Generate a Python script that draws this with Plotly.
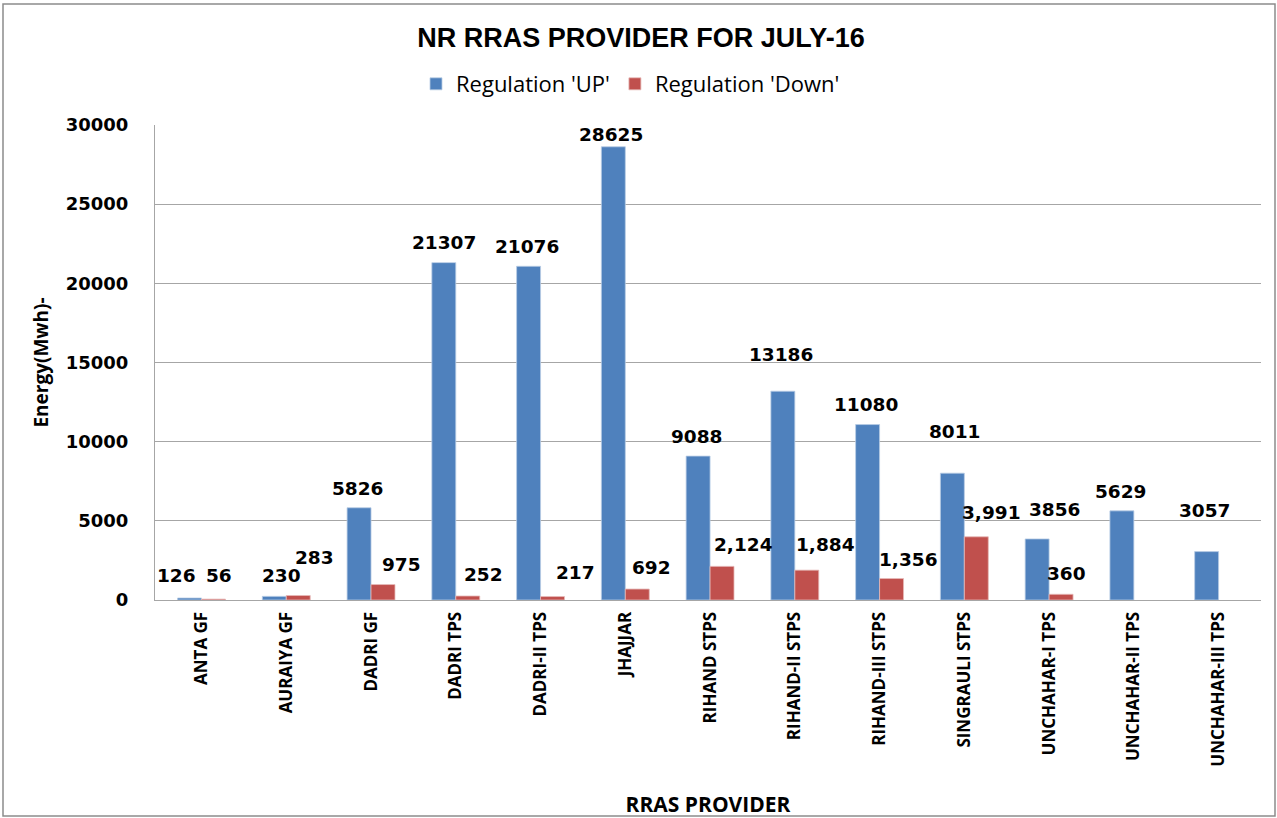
import plotly.graph_objects as go

categories = ["ANTA GF", "AURAIYA GF", "DADRI GF", "DADRI TPS", "DADRI-II TPS", "JHAJJAR",
              "RIHAND STPS", "RIHAND-II STPS", "RIHAND-III STPS", "SINGRAULI STPS",
              "UNCHAHAR-I TPS", "UNCHAHAR-II TPS", "UNCHAHAR-III TPS"]
reg_up = [126, 230, 5826, 21307, 21076, 28625, 9088, 13186, 11080, 8011, 3856, 5629, 3057]
reg_down = [56, 283, 975, 252, 217, 692, 2124, 1884, 1356, 3991, 360, None, None]
y_ticks = [0, 5000, 10000, 15000, 20000, 25000, 30000]

# label placement offsets (px) relative to each bar's top centre (style only)
up_dx = [-13, 7, -1, 0, -2, -2, -1, -2, -2, 3, 18, -1, -2]
up_dy = [23, 21, 19, 20, 20, 12, 20, 37, 20, 42, 29, 19, 41]
down_dx = [5, 16.5, 18, 15.5, 23, 14, 21.5, 18.5, 17, 15.5, 5.5, 0, 0]
down_dy = [24, 38, 20, 22, 24, 21.5, 22, 26, 19, 24, 21, 0, 0]

W, H = 1277, 818
L, R, T, B = 155, 16, 125, 218
pw, ph = W - L - R, H - T - B
BARGAP = 0.435
half_bar = (pw / len(categories)) * (1 - BARGAP) / 2 / 2

label_font = dict(family="DejaVu Sans", size=18.5, color="black", weight="bold")

fig = go.Figure()
fig.add_trace(go.Bar(
    name="Regulation 'UP'", x=categories, y=reg_up,
    marker=dict(color="#4F81BD", line=dict(color="#B9CDE5", width=0.8)),
))
fig.add_trace(go.Bar(
    name="Regulation 'Down'", x=categories, y=reg_down,
    marker=dict(color="#C0504D", line=dict(color="#E6B9B8", width=0.8)),
))

annotations = []
for cat, v, dx, dy in zip(categories, reg_up, up_dx, up_dy):
    if v is None:
        continue
    annotations.append(dict(x=cat, y=v, xref="x", yref="y", text=str(v), showarrow=False,
                            xshift=-half_bar + dx, yshift=dy, yanchor="middle",
                            xanchor="center", font=label_font))
for cat, v, dx, dy in zip(categories, reg_down, down_dx, down_dy):
    if v is None:
        continue
    annotations.append(dict(x=cat, y=v, xref="x", yref="y", text=f"{v:,}", showarrow=False,
                            xshift=half_bar + dx, yshift=dy, yanchor="middle",
                            xanchor="center", font=label_font))

fig.update_layout(
    width=W, height=H,
    margin=dict(l=L, r=R, t=T, b=B, autoexpand=False),
    paper_bgcolor="white", plot_bgcolor="white",
    barmode="group", bargap=BARGAP, bargroupgap=0,
    title=dict(text="<b>NR RRAS PROVIDER FOR JULY-16</b>", x=641 / W, xanchor="center",
               y=1 - 38 / H, yanchor="middle",
               font=dict(family="Liberation Sans", size=27, color="black")),
    legend=dict(orientation="h", x=(416 - L) / pw, xanchor="left",
                y=(ph + T - 84) / ph, yanchor="middle",
                font=dict(family="Open Sans", size=22, color="black"),
                itemwidth=30, bgcolor="rgba(0,0,0,0)"),
    font=dict(family="Open Sans", color="black"),
    annotations=annotations,
)
fig.update_xaxes(
    tickangle=-90, tickfont=dict(family="Open Sans", size=17, color="black", weight="bold"),
    showline=True, linecolor="#A6A6A6", linewidth=1, showgrid=False, ticks="",
    ticklabelstandoff=4,
    title=dict(text="<b>RRAS PROVIDER</b>", font=dict(family="Open Sans", size=21, color="black"),
               standoff=40),
    automargin=False,
)
fig.update_yaxes(
    range=[0, 30000], tickvals=y_ticks, ticktext=[str(v) for v in y_ticks],
    tickfont=dict(family="DejaVu Sans", size=18, color="black", weight="bold"),
    showline=True, linecolor="#A6A6A6", linewidth=1,
    showgrid=True, gridcolor="#A6A6A6", gridwidth=1, zeroline=False,
    ticks="", ticklabelstandoff=22,
    title=dict(text="<b>Energy(Mwh)-</b>", font=dict(family="Open Sans", size=19, color="black"),
               standoff=12),
    automargin=False,
)
# outer chart frame
fig.add_shape(type="rect", xref="paper", yref="paper",
              x0=(3 - L) / pw, x1=(W - 2 - L) / pw,
              y0=(ph + T - (H - 2)) / ph, y1=(ph + T - 4) / ph,
              line=dict(color="#8C8C8C", width=1.5), fillcolor="rgba(0,0,0,0)", layer="below")

fig.write_html("out.html", config={"displayModeBar": False},
               post_script="document.body.style.margin='0px';")
